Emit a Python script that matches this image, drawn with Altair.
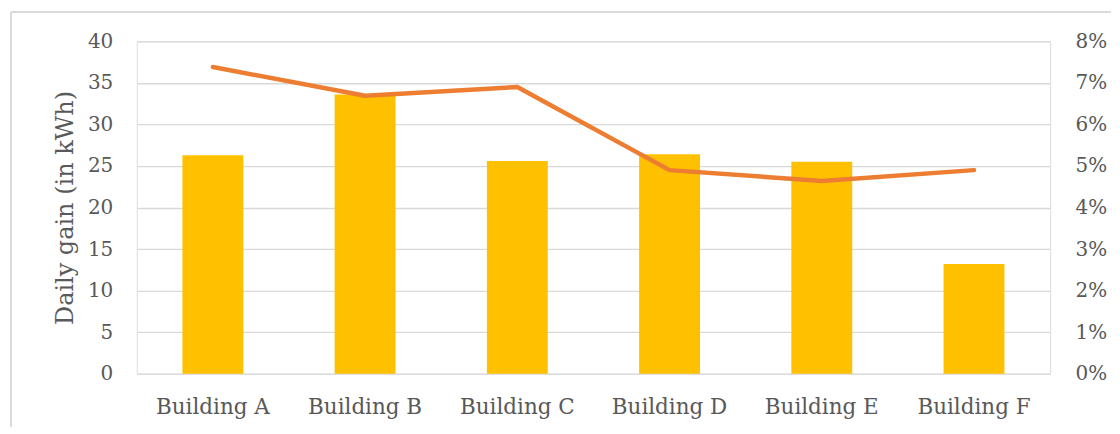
import altair as alt
import pandas as pd

buildings = ["Building A", "Building B", "Building C", "Building D", "Building E", "Building F"]
daily_gain = [26.3, 33.6, 25.6, 26.4, 25.5, 13.2]
gain_pct = [0.0738, 0.0669, 0.0690, 0.0490, 0.0464, 0.0490]
left_ticks = [0, 5, 10, 15, 20, 25, 30, 35, 40]
right_ticks = [0, 0.01, 0.02, 0.03, 0.04, 0.05, 0.06, 0.07, 0.08]

df = pd.DataFrame({"building": buildings, "gain": daily_gain, "pct": gain_pct})

FONT = "DejaVu Serif"
GREY = "#595959"

x = alt.X("building:N", sort=buildings, title=None,
          scale=alt.Scale(paddingInner=0.6, paddingOuter=0.3),
          axis=alt.Axis(labelAngle=0, labelFont=FONT, labelFontSize=21.5, labelColor=GREY,
                        domain=False, ticks=False, labelPadding=23))

bars = alt.Chart(df).mark_bar(color="#FFC000").encode(
    x=x,
    y=alt.Y("gain:Q", title="Daily gain (in kWh)",
            scale=alt.Scale(domain=[0, 40], nice=False),
            axis=alt.Axis(values=left_ticks, labelFont=FONT, labelFontSize=20, labelColor=GREY,
                          titleFont=FONT, titleFontSize=24, titleColor=GREY, titleFontWeight="normal",
                          titlePadding=10, labelPadding=24, domain=False, ticks=False,
                          grid=True, gridColor="#D9D9D9", gridWidth=1.3)),
)

line = alt.Chart(df).mark_line(color="#ED7D31", strokeWidth=4.5, strokeCap="round", strokeJoin="round").encode(
    x=x,
    y=alt.Y("pct:Q", title=None,
            scale=alt.Scale(domain=[0, 0.08], nice=False),
            axis=alt.Axis(orient="right", values=right_ticks, format=".0%", labelFont=FONT,
                          labelFontSize=20, labelColor=GREY, labelPadding=25,
                          domain=False, ticks=False, grid=False)),
)

frame_left = alt.Chart(df).mark_rule(color="#D9D9D9", strokeWidth=1.5).encode(
    x=alt.value(-126), y=alt.value(-29), y2=alt.value(386))
frame_top = alt.Chart(df).mark_rule(color="#D9D9D9", strokeWidth=1.5).encode(
    x=alt.value(-126), x2=alt.value(976), y=alt.value(-29))

chart = alt.layer(frame_left, frame_top, bars, line).resolve_scale(y="independent").properties(
    width=915, height=333,
    padding={"left": 2, "top": 3, "right": 0, "bottom": 0},
).configure_view(stroke=None).configure(background="white")

chart.save("out.html", embed_options={"renderer": "svg", "actions": False})
